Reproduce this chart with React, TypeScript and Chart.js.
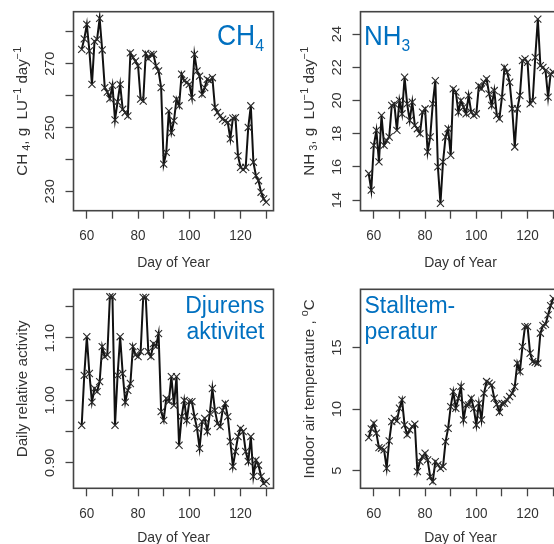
import React, { useEffect, useRef } from 'react';
import { Chart, registerables } from 'chart.js';

Chart.register(...registerables);

// ---------------- data ----------------
const DAYS = [
  58, 59, 60, 61, 62, 63, 64, 65, 66, 67, 68, 69, 70, 71, 72, 73, 74, 75, 76, 77,
  78, 79, 80, 81, 82, 83, 84, 85, 86, 87, 88, 89, 90, 91, 92, 93, 94, 95, 96, 97,
  98, 99, 100, 101, 102, 103, 104, 105, 106, 107, 108, 109, 110, 111, 112, 113, 114, 115, 116, 117,
  118, 119, 120, 121, 122, 123, 124, 125, 126, 127, 128, 129, 130,
];

const CH4 = [
  274.5, 277.8, 282.3, 274.0, 263.5, 277.0, 277.6, 284.2, 274.3, 262.5,
  261.1, 259.0, 263.2, 252.4, 258.0, 263.5, 255.7, 254.7, 253.6, 273.4,
  271.9, 270.8, 269.3, 258.9, 258.3, 273.2, 271.6, 272.9, 272.9, 269.3,
  267.7, 262.5, 238.5, 242.2, 255.2, 248.4, 252.1, 258.9, 256.8, 266.7,
  264.6, 264.1, 263.5, 259.4, 272.9, 267.7, 266.1, 260.4, 262.5, 265.1,
  264.6, 265.6, 256.3, 254.7, 253.6, 252.6, 252.1, 251.6, 246.4, 252.9,
  253.1, 241.1, 237.5, 236.8, 237.5, 250.0, 256.8, 239.1, 234.9, 233.3,
  229.7, 227.6, 226.6,
];

const NH3 = [
  15.6, 14.6, 17.3, 18.2, 16.3, 19.1, 17.3, 17.6, 17.8, 19.7,
  19.8, 18.2, 20.0, 19.2, 21.4, 19.8, 18.8, 19.9, 18.5, 18.3,
  18.0, 19.3, 19.5, 16.9, 17.8, 19.8, 21.2, 16.0, 13.8, 16.3,
  17.8, 18.3, 16.7, 20.7, 20.5, 19.3, 20.0, 19.6, 19.2, 20.3,
  19.3, 19.1, 19.2, 20.9, 20.7, 21.1, 21.3, 20.4, 19.7, 20.6,
  19.1, 18.9, 20.2, 22.0, 21.7, 21.1, 19.5, 17.2, 19.5, 20.3,
  22.4, 22.5, 22.3, 19.8, 20.0, 22.6, 24.9, 22.1, 22.0, 21.8,
  20.2, 21.6, 21.7,
];

const ACTIVITY = [
  0.960, 1.040, 1.102, 1.043, 0.997, 1.019, 1.014, 1.030, 1.086, 1.070,
  1.073, 1.166, 1.166, 0.960, 1.040, 1.102, 1.043, 0.997, 1.016, 1.027,
  1.086, 1.073, 1.070, 1.078, 1.165, 1.165, 1.078, 1.070, 1.091, 1.086,
  1.107, 0.982, 0.968, 1.003, 0.998, 1.038, 0.992, 1.038, 0.928, 0.974,
  1.000, 0.968, 0.998, 0.998, 0.974, 0.955, 0.923, 0.966, 0.971, 0.950,
  0.979, 1.019, 0.984, 0.963, 0.958, 0.984, 0.995, 0.974, 0.934, 0.894,
  0.918, 0.942, 0.955, 0.950, 0.918, 0.902, 0.942, 0.878, 0.904, 0.896,
  0.878, 0.867, 0.870,
];

const TEMPERATURE = [
  7.68, 8.39, 8.85, 8.04, 6.87, 6.82, 6.68, 5.19, 7.41, 8.98,
  9.25, 9.04, 10.07, 10.75, 8.71, 7.90, 8.31, 8.58, 8.77, 4.92,
  5.73, 6.14, 6.41, 5.87, 4.51, 4.11, 5.73, 5.46, 5.19, 5.33,
  7.36, 8.44, 10.20, 11.42, 10.07, 10.88, 11.83, 9.12, 10.34, 10.34,
  10.88, 10.07, 8.71, 10.47, 9.12, 11.29, 12.24, 12.10, 11.96, 10.88,
  10.39, 9.74, 10.47, 10.47, 10.75, 11.02, 11.29, 11.83, 13.73, 13.05,
  15.08, 16.71, 16.71, 14.54, 13.86, 13.81, 13.73, 16.17, 16.79, 16.90,
  17.66, 18.41, 19.00,
];

const X_TICKS = [60, 70, 80, 90, 100, 110, 120, 130];
const X_LABELS = [60, 80, 100, 120];
const CH4_TICKS = [230, 240, 250, 260, 270, 280];
const CH4_LABELS = [230, 250, 270];
const NH3_TICKS = [14, 16, 18, 20, 22, 24];
const NH3_LABELS = [14, 16, 18, 20, 22, 24];
const ACT_TICKS = [0.9, 0.95, 1.0, 1.05, 1.1, 1.15];
const ACT_LABELS = [0.9, 1.0, 1.1];
const TEMP_TICKS = [5, 10, 15];
const TEMP_LABELS = [5, 10, 15];

// ---------------- styling ----------------
const FONT = '"Liberation Sans", Arial, Helvetica, sans-serif';
const STRETCH = 1.08;
const TEXT = '#333333';
const AXIS = '#444444';
const BLUE = '#0070c0';

type Seg = { t: string; s?: number; dy?: number };

function drawRich(
  ctx: CanvasRenderingContext2D,
  segs: Seg[],
  x: number,
  y: number,
  size: number,
  align: 'left' | 'center' | 'right',
  rotate: boolean,
  color: string
) {
  ctx.save();
  ctx.translate(x, y);
  ctx.scale(1, STRETCH);
  if (rotate) ctx.rotate(-Math.PI / 2);
  ctx.fillStyle = color;
  ctx.textBaseline = 'alphabetic';
  ctx.textAlign = 'left';
  const parts = segs.map((seg) => {
    const fs = size * (seg.s ?? 1);
    const font = `${fs}px ${FONT}`;
    ctx.font = font;
    return { t: seg.t, font, w: ctx.measureText(seg.t).width, dy: (seg.dy ?? 0) * size };
  });
  const total = parts.reduce((a, p) => a + p.w, 0);
  let cx = align === 'left' ? 0 : align === 'center' ? -total / 2 : -total;
  for (const p of parts) {
    ctx.font = p.font;
    ctx.fillText(p.t, cx, p.dy);
    cx += p.w;
  }
  ctx.restore();
}

type TitleLine = { segs: Seg[]; x: number; y: number };

type PanelProps = {
  left: number;
  top: number;
  width: number;
  height: number;
  boxTop: number;
  boxBottom: number;
  xTitleOffset: number;
  values: number[];
  yMin: number;
  yMax: number;
  yTicks: number[];
  yLabels: number[];
  fmt: (v: number) => string;
  yTitle: Seg[];
  titleLines: TitleLine[];
  titleSize: number;
  titleAlign: 'left' | 'right';
};

const BOX_LEFT = 73.5;
const BOX_RIGHT = 273.5;

function Panel(p: PanelProps) {
  const ref = useRef<HTMLCanvasElement | null>(null);

  useEffect(() => {
    const canvas = ref.current;
    if (!canvas) return;

    const textPlugin = {
      id: 'panelText',
      afterDraw(chart: any) {
        const ctx: CanvasRenderingContext2D = chart.ctx;
        const a = chart.chartArea;
        const xs = chart.scales.x;
        const ys = chart.scales.y;
        // box
        ctx.save();
        ctx.strokeStyle = AXIS;
        ctx.lineWidth = 1.6;
        ctx.strokeRect(a.left, a.top, a.right - a.left, a.bottom - a.top);
        ctx.restore();
        // x tick labels
        X_LABELS.forEach((v) => {
          drawRich(ctx, [{ t: String(v) }], xs.getPixelForValue(v), a.bottom + 29.5, 13.5, 'center', false, TEXT);
        });
        drawRich(ctx, [{ t: 'Day of Year' }], (a.left + a.right) / 2, a.bottom + p.xTitleOffset, 14, 'center', false, TEXT);
        // y tick labels (rotated, parallel to axis)
        p.yLabels.forEach((v) => {
          drawRich(ctx, [{ t: p.fmt(v) }], a.left - 20, ys.getPixelForValue(v), 13.5, 'center', true, TEXT);
        });
        // y title
        drawRich(ctx, p.yTitle, a.left - 46.6, (a.top + a.bottom) / 2, 14, 'center', true, TEXT);
        // panel title
        p.titleLines.forEach((ln) => {
          drawRich(ctx, ln.segs, ln.x, ln.y, p.titleSize, p.titleAlign, false, BLUE);
        });
      },
    };

    const chart = new Chart(canvas, {
      type: 'line',
      data: {
        datasets: [
          {
            data: DAYS.map((d, i) => ({ x: d, y: p.values[i] })),
            borderColor: '#111111',
            borderWidth: 2,
            pointStyle: 'crossRot',
            pointRadius: 5,
            pointBorderColor: '#2a2a2a',
            pointBorderWidth: 1.1,
            pointBackgroundColor: 'rgba(0,0,0,0)',
            tension: 0,
          } as any,
        ],
      },
      options: {
        responsive: false,
        animation: false,
        events: [],
        layout: {
          padding: { left: 0, top: p.boxTop, right: p.width - BOX_RIGHT, bottom: 0 },
        },
        plugins: { legend: { display: false }, tooltip: { enabled: false } },
        scales: {
          x: {
            type: 'linear',
            min: 54.8,
            max: 132.85,
            border: { display: false },
            grid: {
              display: true,
              drawOnChartArea: false,
              drawTicks: true,
              tickLength: 8,
              tickColor: AXIS,
              tickWidth: 1.3,
            },
            ticks: { display: false, autoSkip: false },
            afterBuildTicks: (scale: any) => {
              scale.ticks = X_TICKS.map((v) => ({ value: v }));
            },
            afterFit: (scale: any) => {
              scale.height = p.height - p.boxBottom;
            },
          },
          y: {
            type: 'linear',
            min: p.yMin,
            max: p.yMax,
            border: { display: false },
            grid: {
              display: true,
              drawOnChartArea: false,
              drawTicks: true,
              tickLength: 8,
              tickColor: AXIS,
              tickWidth: 1.3,
            },
            ticks: { display: false, autoSkip: false },
            afterBuildTicks: (scale: any) => {
              scale.ticks = p.yTicks.map((v) => ({ value: v }));
            },
            afterFit: (scale: any) => {
              scale.width = BOX_LEFT;
            },
          },
        },
      } as any,
      plugins: [textPlugin],
    });

    return () => chart.destroy();
  }, []);

  return (
    <div style={{ position: 'absolute', left: p.left, top: p.top, width: p.width, height: p.height }}>
      <canvas ref={ref} width={p.width} height={p.height} style={{ display: 'block', width: p.width, height: p.height }} />
    </div>
  );
}

const SUP = 0.72;
const CH4_TITLE: Seg[] = [
  { t: 'CH' },
  { t: ' 4', s: SUP, dy: 0.25 },
  { t: ', g  LU' },
  { t: '\u22121', s: SUP, dy: -0.42 },
  { t: ' day' },
  { t: '\u22121', s: SUP, dy: -0.42 },
];
const NH3_TITLE: Seg[] = [
  { t: 'NH' },
  { t: ' 3', s: SUP, dy: 0.25 },
  { t: ', g  LU' },
  { t: '\u22121', s: SUP, dy: -0.42 },
  { t: ' day' },
  { t: '\u22121', s: SUP, dy: -0.42 },
];
const ACT_TITLE: Seg[] = [{ t: 'Daily relative activity' }];
const TEMP_TITLE: Seg[] = [
  { t: 'Indoor air temperature , ' },
  { t: 'o', s: SUP, dy: -0.42 },
  { t: 'C' },
];

export default function App() {
  const W = 287;
  const H1 = 278;
  const H2 = 266;
  return (
    <div
      style={{
        position: 'fixed',
        left: 0,
        top: 0,
        width: 554,
        height: 544,
        overflow: 'hidden',
        background: '#ffffff',
      }}
    >
      <Panel
        left={0}
        top={0}
        width={W}
        height={H1}
        boxTop={11.7}
        boxBottom={210.7}
        xTitleOffset={56.5}
        values={CH4}
        yMin={223.9}
        yMax={286.3}
        yTicks={CH4_TICKS}
        yLabels={CH4_LABELS}
        fmt={(v) => String(v)}
        yTitle={CH4_TITLE}
        titleLines={[{ segs: [{ t: 'CH' }, { t: '4', s: 0.6, dy: 0.22 }], x: 264, y: 45 }]}
        titleSize={26.5}
        titleAlign="right"
      />
      <Panel
        left={W}
        top={0}
        width={W}
        height={H1}
        boxTop={11.7}
        boxBottom={210.7}
        xTitleOffset={56.5}
        values={NH3}
        yMin={13.36}
        yMax={25.35}
        yTicks={NH3_TICKS}
        yLabels={NH3_LABELS}
        fmt={(v) => String(v)}
        yTitle={NH3_TITLE}
        titleLines={[{ segs: [{ t: 'NH' }, { t: '3', s: 0.6, dy: 0.24 }], x: 77, y: 44.5 }]}
        titleSize={26}
        titleAlign="left"
      />
      <Panel
        left={0}
        top={H1}
        width={W}
        height={H2}
        boxTop={11.3}
        boxBottom={210.3}
        xTitleOffset={53.3}
        values={ACTIVITY}
        yMin={0.859}
        yMax={1.178}
        yTicks={ACT_TICKS}
        yLabels={ACT_LABELS}
        fmt={(v) => v.toFixed(2)}
        yTitle={ACT_TITLE}
        titleLines={[
          { segs: [{ t: 'Djurens' }], x: 264.5, y: 35.3 },
          { segs: [{ t: 'aktivitet' }], x: 264.5, y: 61.3 },
        ]}
        titleSize={23}
        titleAlign="right"
      />
      <Panel
        left={W}
        top={H1}
        width={W}
        height={H2}
        boxTop={11.3}
        boxBottom={210.3}
        xTitleOffset={53.3}
        values={TEMPERATURE}
        yMin={3.56}
        yMax={19.74}
        yTicks={TEMP_TICKS}
        yLabels={TEMP_LABELS}
        fmt={(v) => String(v)}
        yTitle={TEMP_TITLE}
        titleLines={[
          { segs: [{ t: 'Stalltem-' }], x: 77.5, y: 35.3 },
          { segs: [{ t: 'peratur' }], x: 77.5, y: 61.3 },
        ]}
        titleSize={23}
        titleAlign="left"
      />
    </div>
  );
}
